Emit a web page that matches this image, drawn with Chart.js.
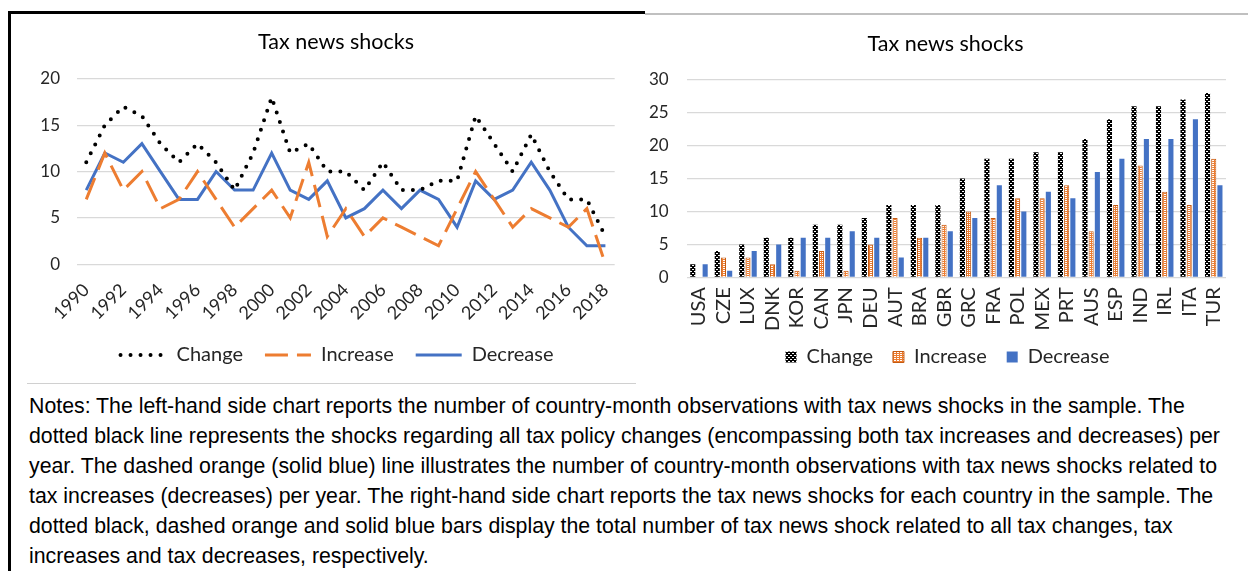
<!DOCTYPE html>
<html>
<head>
<meta charset="utf-8">
<title>Tax news shocks</title>
<script src="https://cdn.jsdelivr.net/npm/chart.js@4.4.0/dist/chart.umd.min.js"></script>
<style>
  html, body { margin: 0; padding: 0; background: #fff; width: 1248px; height: 571px; overflow: hidden; }
  .frame-top { position: absolute; left: 8px; top: 11px; width: 637px; height: 3px; background: #000; }
  .frame-left { position: absolute; left: 8px; top: 11px; width: 3px; height: 560px; background: #000; }
  .frame-right-top { position: absolute; left: 645px; top: 13px; width: 603px; height: 2px; background: #c0c0c0; }
  .sep { position: absolute; left: 27px; top: 383px; width: 609px; height: 1px; background: #d0d0d0; }
  #left-wrap { position: absolute; left: 12px; top: 14px; width: 624px; height: 361px; }
  #right-wrap { position: absolute; left: 645px; top: 14px; width: 603px; height: 363px; }
  .notes { position: absolute; left: 29px; top: 391px; font: 21.3px/30px "Liberation Sans", Arial, sans-serif; color: #000; white-space: nowrap; }
</style>
</head>
<body>
<div class="frame-top"></div>
<div class="frame-left"></div>
<div class="frame-right-top"></div>
<div class="sep"></div>
<div id="left-wrap"><canvas id="chart-left"></canvas></div>
<div id="right-wrap"><canvas id="chart-right"></canvas></div>
<div class="notes">
Notes: The left-hand side chart reports the number of country-month observations with tax news shocks in the sample. The<br>
dotted black line represents the shocks regarding all tax policy changes (encompassing both tax increases and decreases) per<br>
year. The dashed orange (solid blue) line illustrates the number of country-month observations with tax news shocks related to<br>
tax increases (decreases) per year. The right-hand side chart reports the tax news shocks for each country in the sample. The<br>
dotted black, dashed orange and solid blue bars display the total number of tax news shock related to all tax changes, tax<br>
increases and tax decreases, respectively.
</div>
<script>
// --- left chart: shocks per year ---
const years = ['1990', '1991', '1992', '1993', '1994', '1995', '1996', '1997', '1998', '1999',
  '2000', '2001', '2002', '2003', '2004', '2005', '2006', '2007', '2008', '2009',
  '2010', '2011', '2012', '2013', '2014', '2015', '2016', '2017', '2018'];
const changeByYear   = [11, 15, 17, 16, 13, 11, 13, 11, 8, 12, 18, 12, 13, 10, 10, 8, 11, 8, 8, 9, 9, 16, 13, 10, 14, 10, 7, 7, 3];
const increaseByYear = [7, 12, 8, 10, 6, 7, 10, 7, 4, 6, 8, 5, 11, 3, 6, 3, 5, 4, 3, 2, 6, 10, 7, 4, 6, 5, 4, 6, 0];
const decreaseByYear = [8, 12, 11, 13, 10, 7, 7, 10, 8, 8, 12, 8, 7, 9, 5, 6, 8, 6, 8, 7, 4, 9, 7, 8, 11, 8, 4, 2, 2];
const leftTicks = [0, 5, 10, 15, 20];

// --- right chart: shocks per country ---
const countries = ['USA', 'CZE', 'LUX', 'DNK', 'KOR', 'CAN', 'JPN', 'DEU', 'AUT', 'BRA', 'GBR',
  'GRC', 'FRA', 'POL', 'MEX', 'PRT', 'AUS', 'ESP', 'IND', 'IRL', 'ITA', 'TUR'];
const changeByCountry   = [2, 4, 5, 6, 6, 8, 8, 9, 11, 11, 11, 15, 18, 18, 19, 19, 21, 24, 26, 26, 27, 28];
const increaseByCountry = [0, 3, 3, 2, 1, 4, 1, 5, 9, 6, 8, 10, 9, 12, 12, 14, 7, 11, 17, 13, 11, 18];
const decreaseByCountry = [2, 1, 4, 5, 6, 6, 7, 6, 3, 6, 7, 9, 14, 10, 13, 12, 16, 18, 21, 21, 24, 14];
const rightTicks = [0, 5, 10, 15, 20, 25, 30];

const ORANGE = '#ED7D31';
const BLUE = '#4472C4';
const TEXT = '#262626';
const GRID = '#d9d9d9';

Chart.defaults.font.family = 'Lato, "Open Sans", sans-serif';
Chart.defaults.color = TEXT;

// small canvas patterns for the bar fills
function makePattern(w, h, draw) {
  const c = document.createElement('canvas');
  c.width = w;
  c.height = h;
  const g = c.getContext('2d');
  draw(g);
  return g.createPattern(c, 'repeat');
}

const checker = makePattern(4, 4, (g) => {
  g.fillStyle = '#000';
  g.fillRect(0, 0, 4, 4);
  g.fillStyle = '#fff';
  g.fillRect(1, 1, 2, 1);
  g.fillRect(3, 3, 1, 1);
  g.fillRect(0, 3, 1, 1);
});

const ladder = makePattern(3, 2, (g) => {
  g.fillStyle = ORANGE;
  g.fillRect(0, 0, 3, 2);
  g.fillStyle = '#fff';
  g.fillRect(0, 0, 2, 1);
});

// Excel centres title and legend a bit to the right of Chart.js; nudge them.
// Also let the x tick labels run past the axis box instead of being clipped.
const shiftBlocks = {
  id: 'shiftBlocks',
  afterLayout(chart, args, opts) {
    if (chart.titleBlock) {
      chart.titleBlock.left += opts.title;
      chart.titleBlock.right += opts.title;
    }
    if (chart.legend) {
      chart.legend.left += opts.legend;
      chart.legend.right += opts.legend;
    }
    if (opts.overhang) {
      chart.scales.x.bottom += opts.overhang;
    }
  }
};

// legend entries drawn as short line samples with the dataset's dash
function lineLegendLabels(chart) {
  const items = Chart.defaults.plugins.legend.labels.generateLabels(chart);
  return items.map((item) => {
    const ds = chart.data.datasets[item.datasetIndex];
    return Object.assign(item, {
      pointStyle: 'line',
      lineDash: ds.borderDash || [],
      lineCap: ds.borderCapStyle || 'butt',
      lineWidth: ds.borderWidth,
      strokeStyle: ds.borderColor
    });
  });
}

new Chart(document.getElementById('chart-left'), {
  type: 'line',
  data: {
    labels: years,
    datasets: [
      {
        label: 'Change',
        data: changeByYear,
        borderColor: '#000',
        backgroundColor: '#000',
        borderWidth: 4,
        borderDash: [0, 10],
        borderCapStyle: 'round',
        pointRadius: 0,
        tension: 0
      },
      {
        label: 'Increase',
        data: increaseByYear,
        borderColor: ORANGE,
        backgroundColor: ORANGE,
        borderWidth: 3,
        borderDash: [23, 9],
        pointRadius: 0,
        tension: 0
      },
      {
        label: 'Decrease',
        data: decreaseByYear,
        borderColor: BLUE,
        backgroundColor: BLUE,
        borderWidth: 3,
        pointRadius: 0,
        tension: 0
      }
    ]
  },
  plugins: [shiftBlocks],
  options: {
    responsive: true,
    maintainAspectRatio: false,
    animation: false,
    layout: { padding: { left: 0, right: 18, top: 0, bottom: 0 } },
    plugins: {
      shiftBlocks: { title: 21, legend: 22, overhang: 0 },
      title: {
        display: true,
        text: 'Tax news shocks',
        color: '#000',
        font: { size: 21.5, weight: 'normal' },
        padding: { top: 15, bottom: 24 }
      },
      legend: {
        position: 'bottom',
        labels: {
          usePointStyle: true,
          pointStyleWidth: 46,
          color: TEXT,
          font: { size: 20 },
          padding: 22,
          generateLabels: lineLegendLabels
        }
      },
      tooltip: { enabled: false }
    },
    scales: {
      x: {
        offset: true,
        grid: { display: false, drawTicks: false },
        border: { display: false },
        ticks: {
          autoSkip: false,
          minRotation: 45,
          maxRotation: 45,
          padding: 15,
          font: { size: 18 },
          callback: function (value, i) {
            return i % 2 === 0 ? this.getLabelForValue(value) : '';
          }
        },
        afterFit: (axis) => { axis.height = 58.7; }
      },
      y: {
        min: leftTicks[0],
        max: leftTicks[leftTicks.length - 1],
        grid: { color: GRID, lineWidth: 1.3, drawTicks: false },
        border: { display: false },
        ticks: { stepSize: 5, padding: 17, font: { size: 17 } },
        afterFit: (axis) => { axis.width = 65; }
      }
    }
  }
});

new Chart(document.getElementById('chart-right'), {
  type: 'bar',
  data: {
    labels: countries,
    datasets: [
      {
        label: 'Change',
        data: changeByCountry,
        backgroundColor: checker,
        borderWidth: 0
      },
      {
        label: 'Increase',
        data: increaseByCountry,
        backgroundColor: ladder,
        borderColor: '#C55A11',
        borderWidth: 1
      },
      {
        label: 'Decrease',
        data: decreaseByCountry,
        backgroundColor: BLUE,
        borderWidth: 0
      }
    ]
  },
  plugins: [shiftBlocks],
  options: {
    responsive: true,
    maintainAspectRatio: false,
    animation: false,
    datasets: { bar: { categoryPercentage: 0.76, barPercentage: 0.82 } },
    layout: { padding: { left: 0, right: 12, top: 0, bottom: 0 } },
    plugins: {
      shiftBlocks: { title: 5, legend: 7, overhang: 20 },
      title: {
        display: true,
        text: 'Tax news shocks',
        color: '#000',
        font: { size: 21.5, weight: 'normal' },
        padding: { top: 17, bottom: 23 }
      },
      legend: {
        position: 'bottom',
        labels: {
          boxWidth: 11,
          boxHeight: 11,
          color: TEXT,
          font: { size: 20 },
          padding: 20
        }
      },
      tooltip: { enabled: false }
    },
    scales: {
      x: {
        grid: { display: false, drawTicks: false },
        border: { display: false },
        ticks: {
          autoSkip: false,
          minRotation: 90,
          maxRotation: 90,
          padding: 10,
          font: { size: 20 }
        },
        afterFit: (axis) => { axis.height = 49.7; }
      },
      y: {
        min: rightTicks[0],
        max: rightTicks[rightTicks.length - 1],
        grid: { color: GRID, lineWidth: 1.3, drawTicks: false },
        border: { display: false },
        ticks: { stepSize: 5, padding: 18, font: { size: 17 } },
        afterFit: (axis) => { axis.width = 41.7; }
      }
    }
  }
});
</script>
</body>
</html>
